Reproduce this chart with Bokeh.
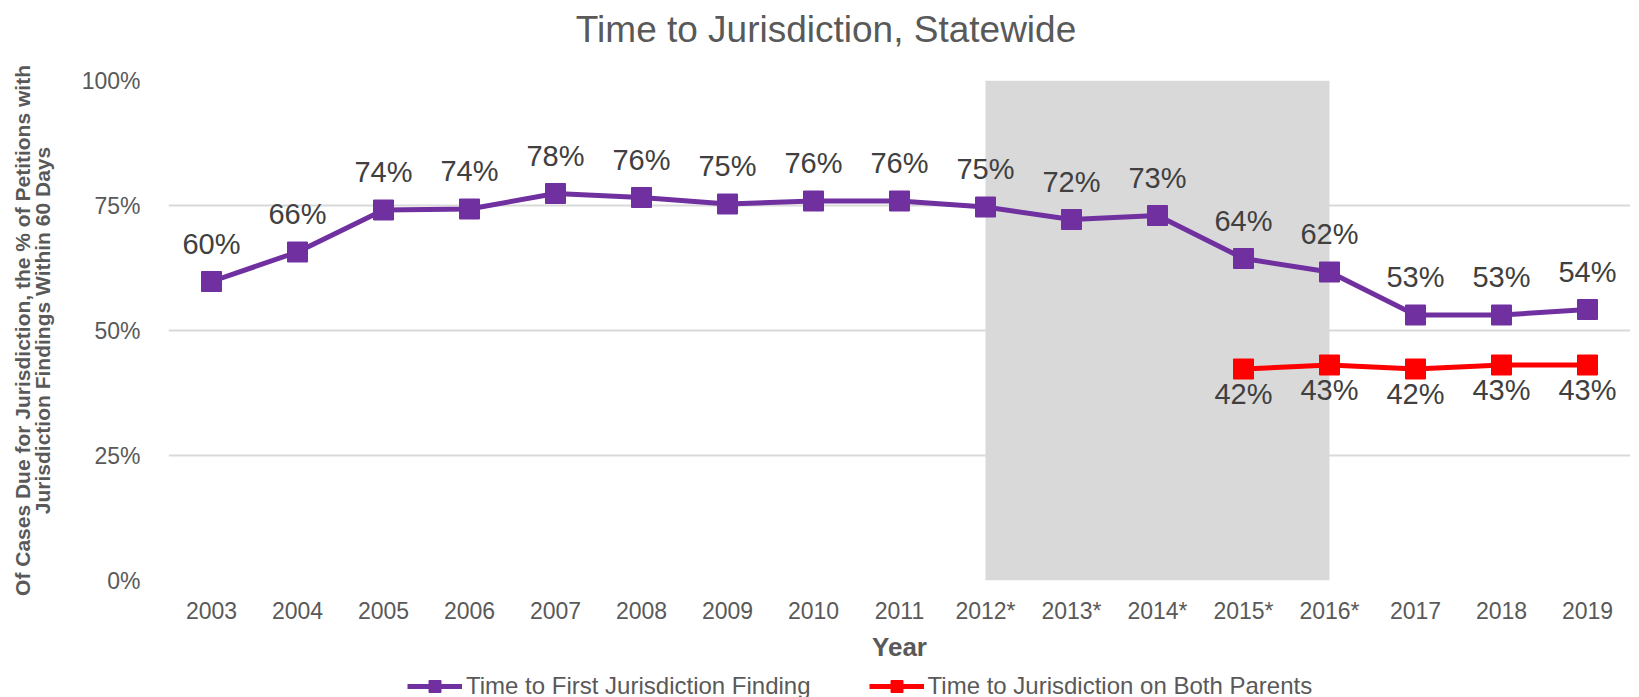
from bokeh.plotting import figure
from bokeh.layouts import column
from bokeh.models import (ColumnDataSource, Range1d, FixedTicker, NumeralTickFormatter,
                          LabelSet, Label, Legend, LegendItem, BoxAnnotation)
from bokeh.core.properties import value
from bokeh.embed import file_html
from bokeh.resources import INLINE

years = ["2003", "2004", "2005", "2006", "2007", "2008", "2009", "2010", "2011",
         "2012*", "2013*", "2014*", "2015*", "2016*", "2017", "2018", "2019"]
first_finding = [59.8, 65.7, 74.1, 74.3, 77.4, 76.6, 75.3, 75.9, 75.9,
                 74.7, 72.2, 73.0, 64.4, 61.7, 53.1, 53.1, 54.2]
first_labels = ["60%", "66%", "74%", "74%", "78%", "76%", "75%", "76%", "76%",
                "75%", "72%", "73%", "64%", "62%", "53%", "53%", "54%"]
both_years = ["2015*", "2016*", "2017", "2018", "2019"]
both_parents = [42.3, 43.1, 42.3, 43.1, 43.1]
both_labels = ["42%", "43%", "42%", "43%", "43%"]
shade_start, shade_end = "2012*", "2016*"
y_ticks = [0, 25, 50, 75, 100]
series_names = ["Time to First Jurisdiction Finding", "Time to Jurisdiction on Both Parents"]
title_text = "Time to Jurisdiction, Statewide"

FONT = "Liberation Sans"
PURPLE = "#7030A0"
RED = "#FF0000"
GREY_TXT = "#595959"
LEFT = 168
W = 1631

xi = list(range(len(years)))
src1 = ColumnDataSource(dict(x=xi, y=first_finding, lab=first_labels))
src2 = ColumnDataSource(dict(x=[years.index(v) for v in both_years], y=both_parents, lab=both_labels))

# ---------- title strip (its frame is aligned with the chart frame) ----------
t = figure(width=W, height=58, output_backend="svg", toolbar_location=None,
           x_range=Range1d(LEFT, W), y_range=Range1d(0, 58), min_border=0,
           x_axis_type=None, y_axis_type=None)
t.grid.visible = False
t.outline_line_color = None
t.add_layout(Label(x=826, y=29, text=title_text, text_align="center", text_baseline="middle",
                   text_font=FONT, text_font_size="37px", text_color=GREY_TXT))

# ---------- main chart ----------
p = figure(frame_width=1462, frame_height=500, output_backend="svg", toolbar_location=None,
           x_range=Range1d(-0.5, len(years) - 0.5), y_range=Range1d(0, 100),
           min_border_left=LEFT, min_border_right=1, min_border_top=22, min_border_bottom=80)
p.outline_line_color = None
p.background_fill_color = "white"

p.add_layout(BoxAnnotation(left=years.index(shade_start), right=years.index(shade_end),
                           bottom=0, top=100, fill_color="#D9D9D9", fill_alpha=1.0,
                           line_color=None, level="underlay"))

p.xaxis.ticker = FixedTicker(ticks=xi)
p.xaxis.major_label_overrides = {i: y for i, y in enumerate(years)}
p.yaxis.ticker = FixedTicker(ticks=y_ticks)
p.yaxis.formatter = NumeralTickFormatter(format="0")
p.yaxis.major_label_overrides = {t_: f"{t_}%" for t_ in y_ticks}
for ax in (p.xaxis[0], p.yaxis[0]):
    ax.axis_line_color = None
    ax.major_tick_line_color = None
    ax.minor_tick_line_color = None
    ax.major_label_text_font = FONT
    ax.major_label_text_font_size = "23px"
    ax.major_label_text_color = GREY_TXT
    ax.axis_label_text_font = FONT
    ax.axis_label_text_font_style = "bold"
    ax.axis_label_text_color = GREY_TXT
p.xaxis.axis_label = "Year"
p.xaxis.axis_label_text_font_size = "26px"
p.xaxis.major_label_standoff = 11
p.xaxis.axis_label_standoff = 5
p.yaxis.axis_label = "Of Cases Due for Jurisdiction, the % of Petitions with\nJurisdiction Findings Within 60 Days"
p.yaxis.axis_label_text_font_size = "21px"
p.yaxis.axis_label_text_line_height = 0.85
p.yaxis.major_label_standoff = 22
p.yaxis.axis_label_standoff = 25

p.xgrid.grid_line_color = None
p.ygrid.grid_line_color = "#D9D9D9"
p.ygrid.grid_line_width = 2

p.line("x", "y", source=src1, line_color=PURPLE, line_width=5)
p.scatter("x", "y", source=src1, marker="square", size=20, fill_color=PURPLE, line_color=PURPLE)
p.line("x", "y", source=src2, line_color=RED, line_width=5)
p.scatter("x", "y", source=src2, marker="square", size=20, fill_color=RED, line_color=RED)

p.add_layout(LabelSet(x="x", y="y", text="lab", source=src1, text_align="center",
                      text_baseline="middle", y_offset=38, text_font=value(FONT),
                      text_font_size="29px", text_color="#404040"))
p.add_layout(LabelSet(x="x", y="y", text="lab", source=src2, text_align="center",
                      text_baseline="middle", y_offset=-25, text_font=value(FONT),
                      text_font_size="29px", text_color="#404040"))

# ---------- legend strip (series drawn out of view; only the legend shows) ----------
lg = figure(width=W, height=37, output_backend="svg", toolbar_location=None,
            x_range=Range1d(0, 1), y_range=Range1d(0, 1), min_border=0,
            x_axis_type=None, y_axis_type=None)
lg.grid.visible = False
lg.outline_line_color = None
a1 = lg.line("x", "y", source=src1, line_color=PURPLE, line_width=5)
b1 = lg.scatter("x", "y", source=src1, marker="square", size=16, fill_color=PURPLE, line_color=PURPLE)
a2 = lg.line("x", "y", source=src2, line_color=RED, line_width=5)
b2 = lg.scatter("x", "y", source=src2, marker="square", size=16, fill_color=RED, line_color=RED)
legend = Legend(items=[LegendItem(label=series_names[0], renderers=[a1, b1]),
                       LegendItem(label=series_names[1], renderers=[a2, b2])],
                orientation="horizontal", location=(407 - LEFT, 0), border_line_color=None,
                label_text_font=FONT, label_text_font_size="24px", label_text_color=GREY_TXT,
                glyph_width=55, glyph_height=30, spacing=58, padding=0, margin=0,
                label_standoff=4, background_fill_alpha=0)
lg.add_layout(legend, "center")

layout = column(t, p, lg, spacing=0)
open("out.html", "w").write(file_html(layout, INLINE))
